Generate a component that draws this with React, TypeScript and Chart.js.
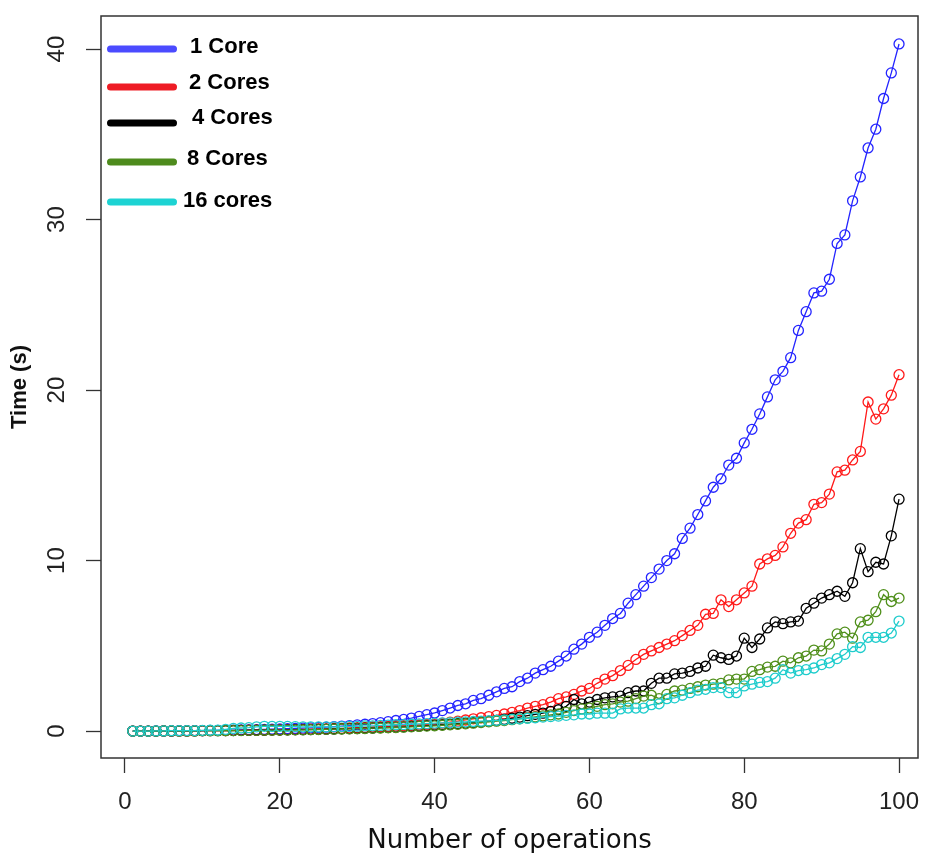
import React, { useEffect, useRef } from "react";
import { Chart, registerables } from "chart.js";

Chart.register(...registerables);

const operations = [
  1, 2, 3, 4, 5, 6, 7, 8, 9, 10, 11, 12, 13, 14, 15, 16, 17, 18, 19, 20,
  21, 22, 23, 24, 25, 26, 27, 28, 29, 30, 31, 32, 33, 34, 35, 36, 37, 38, 39, 40,
  41, 42, 43, 44, 45, 46, 47, 48, 49, 50, 51, 52, 53, 54, 55, 56, 57, 58, 59, 60,
  61, 62, 63, 64, 65, 66, 67, 68, 69, 70, 71, 72, 73, 74, 75, 76, 77, 78, 79, 80,
  81, 82, 83, 84, 85, 86, 87, 88, 89, 90, 91, 92, 93, 94, 95, 96, 97, 98, 99, 100,
];

const core1 = [
  0.0, 0.0, 0.0, 0.01, 0.01, 0.01, 0.02, 0.02, 0.03, 0.03,
  0.04, 0.04, 0.05, 0.06, 0.07, 0.08, 0.09, 0.1, 0.11, 0.12,
  0.14, 0.15, 0.17, 0.19, 0.21, 0.23, 0.26, 0.29, 0.32, 0.36,
  0.4, 0.44, 0.49, 0.55, 0.62, 0.68, 0.76, 0.86, 0.96, 1.06,
  1.2, 1.35, 1.5, 1.6, 1.8, 1.9, 2.1, 2.3, 2.5, 2.6,
  2.9, 3.1, 3.4, 3.6, 3.8, 4.1, 4.4, 4.8, 5.1, 5.5,
  5.8, 6.2, 6.6, 6.9, 7.5, 8.0, 8.5, 9.0, 9.5, 10.0,
  10.4, 11.3, 11.9, 12.7, 13.5, 14.3, 14.8, 15.6, 16.0, 16.9,
  17.7, 18.6, 19.6, 20.6, 21.1, 21.9, 23.5, 24.6, 25.7, 25.8,
  26.5, 28.6, 29.1, 31.1, 32.5, 34.2, 35.3, 37.1, 38.6, 40.3,
];

const cores2 = [
  0.0, 0.0, 0.0, 0.0, 0.01, 0.01, 0.01, 0.01, 0.02, 0.02,
  0.02, 0.03, 0.03, 0.04, 0.04, 0.05, 0.05, 0.06, 0.07, 0.07,
  0.08, 0.09, 0.1, 0.11, 0.12, 0.13, 0.15, 0.16, 0.18, 0.2,
  0.22, 0.24, 0.26, 0.28, 0.3, 0.32, 0.34, 0.36, 0.39, 0.42,
  0.47, 0.52, 0.58, 0.65, 0.72, 0.78, 0.85, 0.92, 1.0, 1.1,
  1.2, 1.35, 1.45, 1.55, 1.7, 1.9, 2.0, 2.15, 2.35, 2.5,
  2.8, 3.05, 3.25, 3.55, 3.85, 4.2, 4.5, 4.7, 4.9, 5.1,
  5.3, 5.6, 5.9, 6.2, 6.85, 6.9, 7.7, 7.3, 7.7, 8.1,
  8.5, 9.8, 10.1, 10.3, 10.8, 11.6, 12.2, 12.4, 13.3, 13.4,
  13.9, 15.2, 15.3, 15.9, 16.4, 19.3, 18.3, 18.9, 19.7, 20.9,
];

const cores4 = [
  0.0, 0.0, 0.0, 0.0, 0.01, 0.01, 0.01, 0.01, 0.01, 0.02,
  0.02, 0.02, 0.03, 0.03, 0.04, 0.04, 0.05, 0.05, 0.06, 0.06,
  0.07, 0.08, 0.08, 0.09, 0.1, 0.11, 0.12, 0.13, 0.14, 0.15,
  0.17, 0.18, 0.2, 0.21, 0.23, 0.25, 0.27, 0.29, 0.32, 0.35,
  0.37, 0.4, 0.43, 0.46, 0.5, 0.54, 0.58, 0.62, 0.68, 0.75,
  0.82, 0.9, 0.98, 1.05, 1.15, 1.25, 1.45, 1.85, 1.6, 1.7,
  1.85, 1.95, 2.0, 2.05, 2.25, 2.35, 2.35, 2.8, 3.1, 3.1,
  3.35, 3.4, 3.5, 3.7, 3.8, 4.45, 4.3, 4.2, 4.4, 5.45,
  4.9, 5.4, 6.05, 6.4, 6.3, 6.4, 6.45, 7.2, 7.5, 7.8,
  8.0, 8.2, 7.9, 8.7, 10.7, 9.35, 9.9, 9.8, 11.45, 13.6,
];

const cores8 = [
  0.0, 0.0, 0.0, 0.0, 0.01, 0.01, 0.01, 0.01, 0.01, 0.02,
  0.02, 0.02, 0.02, 0.03, 0.03, 0.04, 0.04, 0.05, 0.05, 0.06,
  0.06, 0.07, 0.07, 0.08, 0.09, 0.1, 0.11, 0.12, 0.13, 0.14,
  0.15, 0.17, 0.18, 0.2, 0.21, 0.23, 0.25, 0.27, 0.29, 0.31,
  0.34, 0.37, 0.4, 0.43, 0.46, 0.5, 0.54, 0.58, 0.62, 0.67,
  0.72, 0.77, 0.83, 0.89, 0.95, 1.0, 1.1, 1.2, 1.3, 1.35,
  1.45, 1.55, 1.6, 1.7, 1.75, 1.9, 2.05, 2.1, 1.9, 2.15,
  2.35, 2.4, 2.5, 2.6, 2.7, 2.75, 2.8, 3.0, 3.05, 3.05,
  3.5, 3.6, 3.75, 3.8, 4.1, 4.0, 4.3, 4.4, 4.75, 4.7,
  5.1, 5.7, 5.8, 5.45, 6.4, 6.5, 7.0, 8.0, 7.6, 7.8,
];

const cores16 = [
  0.0, 0.0, 0.0, 0.01, 0.01, 0.02, 0.02, 0.03, 0.03, 0.04,
  0.05, 0.06, 0.1, 0.15, 0.18, 0.2, 0.25, 0.28, 0.27, 0.28,
  0.27, 0.26, 0.25, 0.25, 0.24, 0.24, 0.25, 0.26, 0.27, 0.28,
  0.3, 0.31, 0.33, 0.35, 0.37, 0.38, 0.4, 0.42, 0.44, 0.46,
  0.48, 0.5, 0.52, 0.54, 0.56, 0.58, 0.6, 0.63, 0.66, 0.69,
  0.72, 0.75, 0.78, 0.82, 0.85, 0.88, 0.92, 0.95, 1.0, 1.0,
  1.05, 1.05, 1.05, 1.3, 1.35, 1.35, 1.35, 1.55, 1.6, 1.9,
  1.95, 2.1, 2.25, 2.4, 2.45, 2.55, 2.55, 2.25, 2.25, 2.65,
  2.75, 2.85, 2.9, 3.1, 3.6, 3.4, 3.55, 3.6, 3.7, 3.9,
  4.0, 4.25, 4.5, 4.95, 4.9, 5.5, 5.5, 5.5, 5.75, 6.45,
];

const seriesLabels = ["1 Core", "2 Cores", "4 Cores", "8 Cores", "16 cores"];
const seriesValues = [core1, cores2, cores4, cores8, cores16];
const lineColors = ["#2424ff", "#ff1a1a", "#000000", "#4f8f1a", "#1ecccc"];
const legendColors = ["#4b4bff", "#ee1c25", "#000000", "#4e8b1d", "#1dd3d3"];
const xTicks = [0, 20, 40, 60, 80, 100];
const yTicks = [0, 10, 20, 30, 40];
const xTitle = "Number of operations";
const yTitle = "Time (s)";

const SANS = "'Liberation Sans', Arial, Helvetica, sans-serif";

const boxPlugin = {
  id: "rBox",
  afterDraw(chart: any) {
    const { ctx, chartArea: a } = chart;
    ctx.save();
    ctx.strokeStyle = "#333333";
    ctx.lineWidth = 1.5;
    ctx.strokeRect(a.left, a.top, a.right - a.left, a.bottom - a.top);
    ctx.restore();
  },
};

const legendPlugin = {
  id: "rLegend",
  afterDraw(chart: any) {
    const { ctx, chartArea: a } = chart;
    const lineY = [33, 71, 107, 146, 186];
    const textY = [31, 67, 102, 143, 185];
    const textX = [89, 88, 91, 86, 82];
    ctx.save();
    ctx.lineCap = "round";
    ctx.lineWidth = 7;
    chart.data.datasets.forEach((ds: any, i: number) => {
      ctx.strokeStyle = legendColors[i];
      ctx.beginPath();
      ctx.moveTo(a.left + 9.5, a.top + lineY[i]);
      ctx.lineTo(a.left + 72.5, a.top + lineY[i]);
      ctx.stroke();
      ctx.fillStyle = "#000000";
      ctx.font = `bold 22px ${SANS}`;
      ctx.textBaseline = "middle";
      ctx.textAlign = "left";
      ctx.fillText(ds.label, a.left + textX[i], a.top + textY[i]);
    });
    ctx.restore();
  },
};

const zeroPadding = (s: any) => {
  s.paddingTop = 0;
  s.paddingBottom = 0;
  s.paddingLeft = 0;
  s.paddingRight = 0;
};

export default function App() {
  const ref = useRef<HTMLCanvasElement | null>(null);

  useEffect(() => {
    const prevMargin = document.body.style.margin;
    document.body.style.margin = "0";
    if (!ref.current) return;
    const datasets = seriesValues.map((vals, i) => ({
      label: seriesLabels[i],
      data: vals.map((v, j) => ({ x: operations[j], y: v })),
      borderColor: lineColors[i],
      backgroundColor: "rgba(0,0,0,0)",
      borderWidth: 1.3,
      pointRadius: 5,
      pointBorderWidth: 1.3,
      pointBorderColor: lineColors[i],
      pointBackgroundColor: "rgba(0,0,0,0)",
      tension: 0,
      order: seriesLabels.length - i,
    }));

    const chart = new Chart(ref.current, {
      type: "line",
      data: { datasets },
      plugins: [boxPlugin, legendPlugin],
      options: {
        animation: false,
        responsive: false,
        events: [],
        layout: { padding: { top: 16, right: 7, left: 0, bottom: 0 } },
        plugins: {
          legend: { display: false },
          tooltip: { enabled: false },
        },
        scales: {
          x: {
            type: "linear",
            min: -3.1,
            max: 102.45,
            afterFit: (s: any) => {
              s.height = 95;
              zeroPadding(s);
            },
            afterBuildTicks: (s: any) => {
              s.ticks = xTicks.map((v) => ({ value: v }));
            },
            border: { display: false },
            grid: {
              drawOnChartArea: false,
              drawTicks: true,
              tickLength: 15,
              tickColor: "#333333",
              tickWidth: 1.3,
            },
            ticks: {
              autoSkip: false,
              maxRotation: 0,
              padding: 15,
              color: "#222222",
              font: { family: SANS, size: 24 },
              callback: (v: any) => String(v),
            },
            title: {
              display: true,
              text: xTitle,
              color: "#111111",
              padding: { top: 0, bottom: 1 },
              font: { family: "'DejaVu Sans', sans-serif", size: 26, lineHeight: 0.8 },
            },
          },
          y: {
            type: "linear",
            min: -1.58,
            max: 41.94,
            afterFit: (s: any) => {
              s.width = 101;
              zeroPadding(s);
            },
            afterBuildTicks: (s: any) => {
              s.ticks = yTicks.map((v) => ({ value: v }));
            },
            border: { display: false },
            grid: {
              drawOnChartArea: false,
              drawTicks: true,
              tickLength: 15,
              tickColor: "#333333",
              tickWidth: 1.3,
            },
            ticks: {
              autoSkip: false,
              minRotation: 90,
              maxRotation: 90,
              crossAlign: "center",
              padding: 15,
              color: "#222222",
              font: { family: SANS, size: 24 },
              callback: (v: any) => String(v),
            },
            title: {
              display: true,
              text: yTitle,
              color: "#111111",
              padding: { top: 8, bottom: 0 },
              font: { family: SANS, size: 22, weight: "bold", lineHeight: 1.1 },
            },
          },
        },
      } as any,
    });
    return () => {
      chart.destroy();
      document.body.style.margin = prevMargin;
    };
  }, []);

  return (
    <div style={{ width: 925, height: 853 }}>
      <canvas ref={ref} width={925} height={853} style={{ display: "block" }} />
    </div>
  );
}
